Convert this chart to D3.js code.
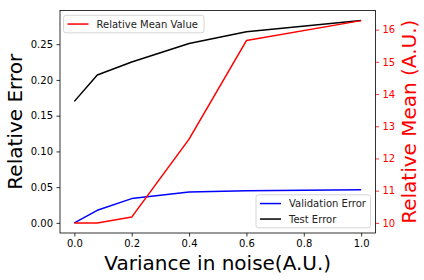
<!DOCTYPE html>
<html>
<head>
<meta charset="utf-8">
<script src="https://cdn.jsdelivr.net/npm/d3@7"></script>
<style>
  body { margin: 0; background: #fff; }
  svg text { font-family: "DejaVu Sans", sans-serif; }
</style>
</head>
<body>
<div id="chart"></div>
<script>
// values
const noise = [0, 0.08, 0.2, 0.4, 0.6, 1.0];
const validationError = [0.0, 0.0176, 0.034, 0.0433, 0.0448, 0.0463];
const testError = [0.170, 0.207, 0.225, 0.251, 0.2675, 0.283];
const relMean = [10.0, 10.0, 10.18, 12.6, 15.66, 16.28];
const xTicks = [0, 0.2, 0.4, 0.6, 0.8, 1.0];
const leftTicks = [0, 0.05, 0.1, 0.15, 0.2, 0.25];
const rightTicks = [10, 11, 12, 13, 14, 15, 16];

const W = 424, H = 280;
const margin = { top: 10.5, right: 48.5, bottom: 47, left: 60 };
const width = W - margin.left - margin.right,
  height = H - margin.top - margin.bottom;

const svg = d3.select("#chart").append("svg")
  .attr("width", W).attr("height", H);
const g = svg.append("g")
  .attr("transform", `translate(${margin.left}, ${margin.top})`);

// matplotlib style 5% margins
function pad(ext) {
  const d = (ext[1] - ext[0]) * 0.05;
  return [ext[0] - d, ext[1] + d];
}

const x = d3.scaleLinear().domain(pad(d3.extent(noise))).range([0, width]);
const yL = d3.scaleLinear()
  .domain(pad(d3.extent(validationError.concat(testError))))
  .range([height, 0]);
const yR = d3.scaleLinear().domain(pad(d3.extent(relMean))).range([height, 0]);

// axes
const xAxis = g.append("g").attr("transform", `translate(0, ${height})`)
  .call(d3.axisBottom(x).tickValues(xTicks).tickFormat(d3.format(".1f"))
    .tickSize(3.5).tickPadding(3.5));
const leftAxis = g.append("g")
  .call(d3.axisLeft(yL).tickValues(leftTicks).tickFormat(d3.format(".2f"))
    .tickSize(3.5).tickPadding(3.5));
const rightAxis = g.append("g").attr("transform", `translate(${width}, 0)`)
  .call(d3.axisRight(yR).tickValues(rightTicks).tickFormat(d3.format("d"))
    .tickSize(3.5).tickPadding(3.5));

[xAxis, leftAxis, rightAxis].forEach((a) => {
  a.select(".domain").remove();
  a.selectAll("text").style("font-size", "10px").attr("fill", "#000");
  a.selectAll("line").attr("stroke", "#000").attr("stroke-width", 0.8);
});
rightAxis.selectAll("text").attr("fill", "red");
rightAxis.selectAll("line").attr("stroke", "red");

// frame
g.append("rect").attr("width", width).attr("height", height)
  .attr("fill", "none").attr("stroke", "#000").attr("stroke-width", 0.8);

// lines
function drawLine(vals, scale, color) {
  const line = d3.line().x((d, i) => x(noise[i])).y((d) => scale(d));
  g.append("path").datum(vals).attr("d", line)
    .attr("fill", "none").attr("stroke", color).attr("stroke-width", 1.5)
    .attr("stroke-linejoin", "round");
}
drawLine(validationError, yL, "blue");
drawLine(testError, yL, "black");
drawLine(relMean, yR, "red");

// legends
function legend(items, lx, ly, w) {
  const lg = g.append("g").attr("transform", `translate(${lx}, ${ly})`);
  lg.append("rect").attr("width", w).attr("height", 17.5 + (items.length - 1) * 15.5)
    .attr("rx", 2.5).attr("fill", "#fff").attr("fill-opacity", 0.8)
    .attr("stroke", "#ccc").attr("stroke-width", 0.8);
  items.forEach((it, i) => {
    const yy = 8.75 + i * 15.5;
    lg.append("line").attr("x1", 4).attr("x2", 25).attr("y1", yy).attr("y2", yy)
      .attr("stroke", it.color).attr("stroke-width", 1.5);
    lg.append("text").attr("x", 33).attr("y", yy).attr("dy", "0.35em")
      .style("font-size", "10px").attr("fill", "#222").text(it.name);
  });
}
legend([{ name: "Relative Mean Value", color: "red" }], 3.5, 4.8, 140.5);
legend([
  { name: "Validation Error", color: "blue" },
  { name: "Test Error", color: "black" },
], 196, 184.3, 114.5);

// axis titles
svg.append("text").attr("x", margin.left + width / 2).attr("y", 270)
  .attr("text-anchor", "middle").style("font-size", "20px").attr("fill", "#000")
  .text("Variance in noise(A.U.)");
svg.append("text")
  .attr("transform", `translate(22, ${margin.top + height / 2}) rotate(-90)`)
  .attr("text-anchor", "middle").style("font-size", "20px").attr("fill", "#000")
  .text("Relative Error");
svg.append("text")
  .attr("transform", `translate(416, ${margin.top + height / 2}) rotate(-90)`)
  .attr("text-anchor", "middle").style("font-size", "20px").attr("fill", "red")
  .text("Relative Mean (A.U.)");
</script>
</body>
</html>
